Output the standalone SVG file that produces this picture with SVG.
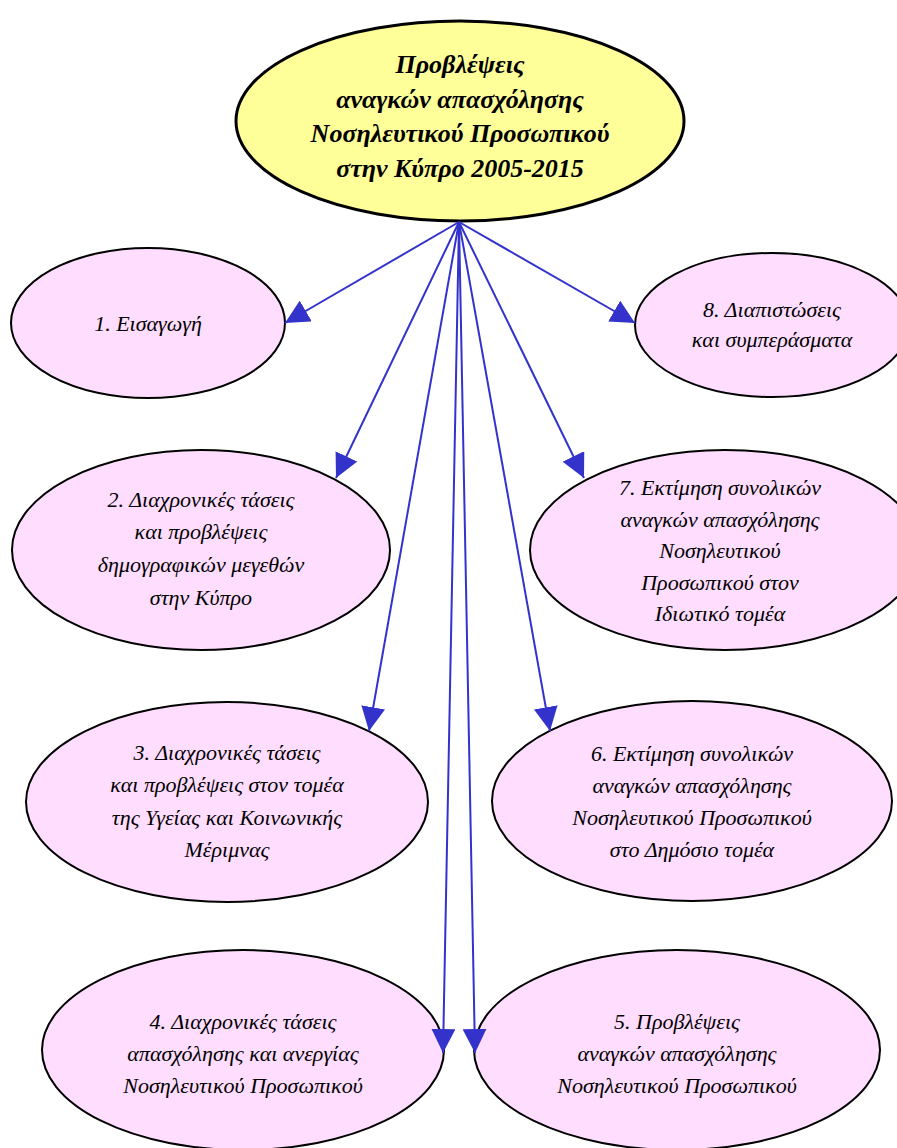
<svg xmlns="http://www.w3.org/2000/svg" width="897" height="1148" viewBox="0 0 897 1148">
<style>
.n{fill:#ffddff;stroke:#000;stroke-width:2}
.t{fill:#ffff99;stroke:#000;stroke-width:3}
text{font-family:"Liberation Serif",serif;font-style:italic;font-size:22px;text-anchor:middle;fill:#000}
.h{font-size:26px;font-weight:bold}
.c line{stroke:#3333cc;stroke-width:2;marker-end:url(#a)}
</style>
<defs>
<marker id="a" markerUnits="userSpaceOnUse" markerWidth="24" markerHeight="24" viewBox="0 0 20 20" refX="20" refY="10" orient="auto">
<path d="M0,0 L20,10 L0,20 Z" fill="#3333cc"/>
</marker>
</defs>
<rect width="897" height="1148" fill="#fff"/>
<g id="root">
<ellipse class="t" cx="460" cy="121" rx="224" ry="100"/>
<text class="h" x="460" y="73">Προβλέψεις</text>
<text class="h" x="460" y="108">αναγκών απασχόλησης</text>
<text class="h" x="460" y="142">Νοσηλευτικού Προσωπικού</text>
<text class="h" x="460" y="177">στην Κύπρο 2005-2015</text>
</g>
<g id="n1">
<ellipse class="n" cx="148" cy="323" rx="137" ry="75"/>
<text x="148" y="331">1. Εισαγωγή</text>
</g>
<g id="n8">
<ellipse class="n" cx="772" cy="325" rx="137" ry="72"/>
<text x="772" y="317">8. Διαπιστώσεις</text>
<text x="772" y="347">και συμπεράσματα</text>
</g>
<g id="n2">
<ellipse class="n" cx="201" cy="550" rx="189" ry="100"/>
<text x="201" y="507">2. Διαχρονικές τάσεις</text>
<text x="201" y="539">και προβλέψεις</text>
<text x="201" y="572">δημογραφικών μεγεθών</text>
<text x="201" y="605">στην Κύπρο</text>
</g>
<g id="n7">
<ellipse class="n" cx="725" cy="550" rx="195" ry="100"/>
<text x="720" y="495">7. Εκτίμηση συνολικών</text>
<text x="720" y="527">αναγκών απασχόλησης</text>
<text x="720" y="558">Νοσηλευτικού</text>
<text x="720" y="590">Προσωπικού στον</text>
<text x="720" y="621">Ιδιωτικό τομέα</text>
</g>
<g id="n3">
<ellipse class="n" cx="227" cy="802" rx="201" ry="100"/>
<text x="227" y="760">3. Διαχρονικές τάσεις</text>
<text x="227" y="792">και προβλέψεις στον τομέα</text>
<text x="227" y="825">της Υγείας και Κοινωνικής</text>
<text x="227" y="857">Μέριμνας</text>
</g>
<g id="n6">
<ellipse class="n" cx="692" cy="801" rx="200" ry="100"/>
<text x="692" y="761">6. Εκτίμηση συνολικών</text>
<text x="692" y="793">αναγκών απασχόλησης</text>
<text x="692" y="825">Νοσηλευτικού Προσωπικού</text>
<text x="692" y="857">στο Δημόσιο τομέα</text>
</g>
<g id="n4">
<ellipse class="n" cx="243" cy="1050" rx="201" ry="100"/>
<text x="243" y="1029">4. Διαχρονικές τάσεις</text>
<text x="243" y="1061">απασχόλησης και ανεργίας</text>
<text x="243" y="1093">Νοσηλευτικού Προσωπικού</text>
</g>
<g id="n5">
<ellipse class="n" cx="677" cy="1050" rx="203" ry="100"/>
<text x="677" y="1029">5. Προβλέψεις</text>
<text x="677" y="1061">αναγκών απασχόλησης</text>
<text x="677" y="1093">Νοσηλευτικού Προσωπικού</text>
</g>
<g id="connectors" class="c">
<line x1="459" y1="222" x2="285" y2="323"/>
<line x1="459" y1="222" x2="635" y2="323"/>
<line x1="459" y1="222" x2="336" y2="478"/>
<line x1="459" y1="222" x2="584" y2="478"/>
<line x1="459" y1="222" x2="369" y2="731"/>
<line x1="459" y1="222" x2="550" y2="731"/>
<line x1="459" y1="222" x2="443" y2="1053"/>
<line x1="459" y1="222" x2="475" y2="1053"/>
</g>
</svg>
